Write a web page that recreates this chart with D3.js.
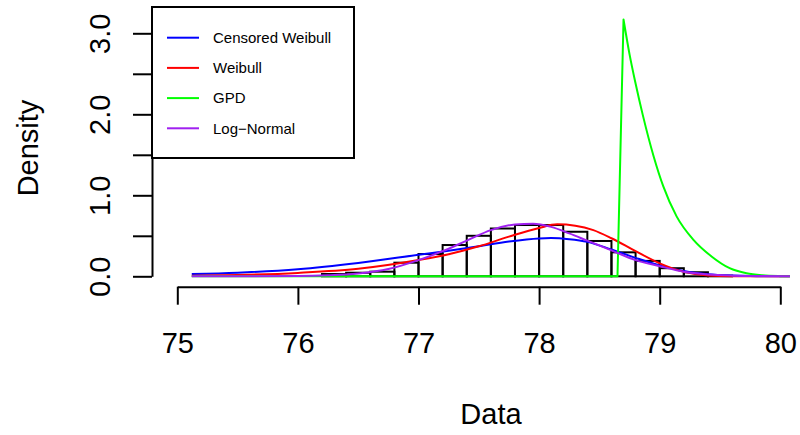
<!DOCTYPE html>
<html>
<head>
<meta charset="utf-8">
<script src="https://cdn.jsdelivr.net/npm/d3@7"></script>
<style>
  body { margin: 0; background: #fff; }
  svg { display: block; font-family: "Liberation Sans", Arial, Helvetica, sans-serif; }
</style>
</head>
<body>
<div id="chart"></div>
<script>
// histogram: bin edges and density per bin
var histBreaks = [75.0, 75.2, 75.4, 75.6, 75.8, 76.0, 76.2, 76.4, 76.6, 76.8, 77.0, 77.2, 77.4,
                  77.6, 77.8, 78.0, 78.2, 78.4, 78.6, 78.8, 79.0, 79.2, 79.4, 79.6, 79.8, 80.0, 80.2];
var histDensity = [0, 0, 0, 0, 0, 0, 0.028, 0.044, 0.057, 0.168, 0.275, 0.386, 0.50,
                   0.59, 0.633, 0.633, 0.55, 0.436, 0.296, 0.19, 0.10, 0.05, 0.008, 0, 0, 0];

// fitted densities
var censWeibullX = [75.12, 75.5, 76.0, 76.5, 77.0, 77.25, 77.5, 77.75, 78.0, 78.1, 78.25, 78.4, 78.6, 78.8, 79.0, 79.2, 79.4, 79.6, 79.8, 80.08];
var censWeibullY = [0.028, 0.045, 0.087, 0.165, 0.265, 0.315, 0.372, 0.43, 0.468, 0.472, 0.458, 0.425, 0.33, 0.228, 0.135, 0.065, 0.026, 0.009, 0.002, 0];

var weibullX = [75.12, 75.5, 76.0, 76.5, 77.0, 77.25, 77.5, 77.75, 78.0, 78.15, 78.3, 78.45, 78.6, 78.8, 79.0, 79.2, 79.4, 79.6, 80.08];
var weibullY = [0.007, 0.016, 0.042, 0.092, 0.2, 0.272, 0.37, 0.49, 0.597, 0.642, 0.625, 0.57, 0.47, 0.31, 0.16, 0.055, 0.01, 0.001, 0];

var gpdX = [75.12, 78.65, 78.70, 78.75, 78.80, 78.86, 78.95, 79.03, 79.14, 79.28, 79.43, 79.58, 79.72, 79.85, 80.0, 80.08];
var gpdY = [0, 0, 3.17, 2.74, 2.38, 1.99, 1.48, 1.11, 0.74, 0.45, 0.245, 0.10, 0.037, 0.012, 0.002, 0];

var logNormalX = [75.12, 76.0, 76.25, 76.5, 76.75, 77.0, 77.2, 77.4, 77.6, 77.8, 77.95, 78.1, 78.25, 78.4, 78.6, 78.8, 79.0, 79.2, 79.4, 79.6, 79.8, 80.08];
var logNormalY = [0, 0.003, 0.012, 0.035, 0.09, 0.2, 0.31, 0.44, 0.57, 0.64, 0.65, 0.61, 0.53, 0.44, 0.32, 0.2, 0.125, 0.055, 0.022, 0.008, 0.003, 0];

var legendLabels = ["Censored Weibull", "Weibull", "GPD", "Log\u2212Normal"];
var legendColors = ["#0000ff", "#ff0000", "#00ff00", "#a020f0"];

var xTicks = [75, 76, 77, 78, 79, 80];
var yTicks = [0, 0.5, 1, 1.5, 2, 2.5, 3];
var yTickLabels = ["0.0", "", "1.0", "", "2.0", "", "3.0"];

var width = 800,
    height = 435,
    fontSize = 29;

var x = d3.scaleLinear().domain([75, 80]).range([177.3, 780.3]);
var y = d3.scaleLinear().domain([0, 3]).range([276.3, 33.3]);

var svg = d3.select("#chart").append("svg")
    .attr("width", width)
    .attr("height", height);

svg.append("rect")
    .attr("width", width)
    .attr("height", height)
    .attr("fill", "#fff");

// histogram bars
var bins = histDensity.map(function(d, i) {
  return {x0: histBreaks[i], x1: histBreaks[i + 1], value: d};
});

svg.append("g").attr("class", "hist")
  .selectAll("rect").data(bins).enter()
  .append("rect")
    .attr("x", function(d) { return x(d.x0); })
    .attr("y", function(d) { return y(d.value); })
    .attr("width", function(d) { return x(d.x1) - x(d.x0); })
    .attr("height", function(d) { return y(0) - y(d.value); })
    .attr("fill", "none")
    .attr("stroke", "#000")
    .attr("stroke-width", 2);

// curves
function zipPoints(xs, ys) {
  return xs.map(function(v, i) { return [v, ys[i]]; });
}

var smooth = d3.line()
    .curve(d3.curveMonotoneX)
    .x(function(d) { return x(d[0]); })
    .y(function(d) { return y(d[1]); });

var straight = d3.line()
    .x(function(d) { return x(d[0]); })
    .y(function(d) { return y(d[1]); });

var curves = svg.append("g").attr("class", "curves")
    .attr("fill", "none")
    .attr("stroke-width", 2)
    .attr("stroke-linejoin", "round");

curves.append("path")
    .attr("d", smooth(zipPoints(censWeibullX, censWeibullY)))
    .attr("stroke", legendColors[0]);

curves.append("path")
    .attr("d", smooth(zipPoints(weibullX, weibullY)))
    .attr("stroke", legendColors[1]);

// GPD: straight rise up to the peak, smooth decay after it
var gpdPts = zipPoints(gpdX, gpdY);
var peak = d3.maxIndex(gpdY);
curves.append("path")
    .attr("d", straight(gpdPts.slice(0, peak + 1)) + smooth(gpdPts.slice(peak)).replace(/^M/, "L"))
    .attr("stroke", legendColors[2]);

curves.append("path")
    .attr("d", smooth(zipPoints(logNormalX, logNormalY)))
    .attr("stroke", legendColors[3]);

// axes
var xAxis = svg.append("g")
    .attr("transform", "translate(0," + 286.7 + ")")
    .call(d3.axisBottom(x).tickValues(xTicks).tickSize(18).tickSizeOuter(0).tickPadding(28)
      .tickFormat(d3.format("d")));

var yAxis = svg.append("g")
    .attr("transform", "translate(" + 152 + ",0)")
    .call(d3.axisLeft(y).tickValues(yTicks).tickSize(19).tickSizeOuter(0)
      .tickFormat(function(d, i) { return yTickLabels[i]; }));

svg.selectAll(".domain, .tick line")
    .attr("stroke", "#000")
    .attr("stroke-width", 2);

svg.selectAll(".tick text")
    .attr("fill", "#000")
    .style("font-size", fontSize + "px")
    .style("font-family", "'Liberation Sans', Arial, sans-serif");

yAxis.selectAll(".tick text")
    .attr("transform", "rotate(-90)")
    .attr("x", 0)
    .attr("y", -42)
    .attr("dy", 0)
    .style("text-anchor", "middle");

// axis titles
svg.append("text")
    .attr("x", 491)
    .attr("y", 424)
    .attr("text-anchor", "middle")
    .style("font-size", fontSize + "px")
    .text("Data");

svg.append("text")
    .attr("transform", "translate(38,148) rotate(-90)")
    .attr("text-anchor", "middle")
    .style("font-size", fontSize + "px")
    .text("Density");

// legend
var legend = svg.append("g").attr("class", "legend");

legend.append("rect")
    .attr("x", 152)
    .attr("y", 7)
    .attr("width", 202)
    .attr("height", 151)
    .attr("fill", "#fff")
    .attr("stroke", "#000")
    .attr("stroke-width", 2);

var items = legend.selectAll("g.item").data(legendLabels).enter()
  .append("g")
    .attr("class", "item")
    .attr("transform", function(d, i) { return "translate(0," + (37.7 + i * 30.2) + ")"; });

items.append("line")
    .attr("x1", 167)
    .attr("x2", 199)
    .attr("stroke", function(d, i) { return legendColors[i]; })
    .attr("stroke-width", 2);

items.append("text")
    .attr("x", 213)
    .attr("dy", "0.35em")
    .style("font-size", "15px")
    .text(function(d) { return d; });
</script>
</body>
</html>
